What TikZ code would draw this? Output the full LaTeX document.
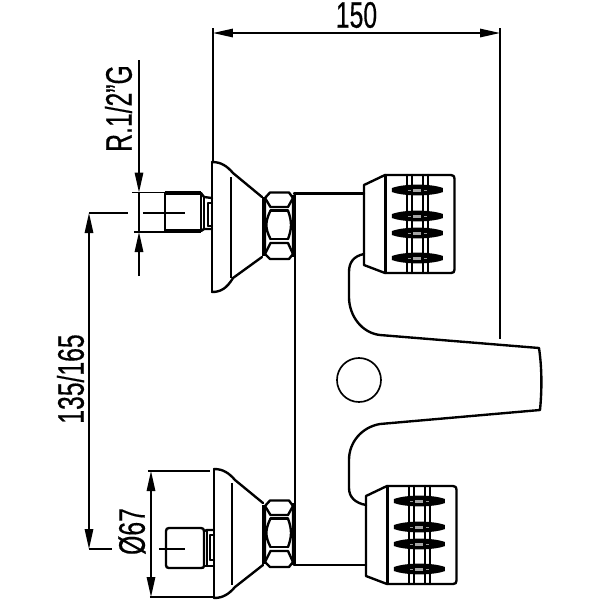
\documentclass[tikz,border=0pt]{standalone}
\usepackage{fontspec}
\usepackage{graphicx}
\setmainfont{Liberation Sans}
\newfontfamily\dimfont[FakeBold=0.5]{Liberation Sans}
\usetikzlibrary{arrows.meta}
\tikzset{
  part/.style={line width=1.35pt,line join=round,line cap=round},
  heavy/.style={line width=2.2pt,line join=round},
  thin part/.style={line width=0.9pt},
  dim/.style={line width=0.85pt},
  dimarrow/.style={dim,{Triangle[length=0.4cm,width=0.17cm]}-{Triangle[length=0.4cm,width=0.17cm]}},
  dimone/.style={dim,-{Triangle[length=0.4cm,width=0.17cm]}},
  label/.style={font=\dimfont\fontsize{21pt}{22pt}\selectfont,inner sep=0pt}
}
\newcommand{\cond}[1]{\scalebox{.67}[1]{#1}}
\newcommand{\nutpart}[1]{%
  \begin{scope}[shift={(#1)}]
    \draw[part] (270,192.5) -- (289,192.5) -- (293,198) -- (293,254) -- (289,259) -- (270,259) -- (265,254) -- (265,198) -- cycle;
    \draw[heavy] (263.5,197) -- (263.5,256);
    \draw[heavy] (294,195) -- (294,257);
    \draw[part] (265,198) -- (270.5,207) -- (288,207) -- (293,198);
    \draw[part] (270.5,210.5) -- (288,210.5);
    \draw[part] (270.5,210.5) .. controls (265,222) and (265,228) .. (270.5,239);
    \draw[part] (288,210.5) .. controls (292,222) and (292,228) .. (288,239);
    \draw[part] (270.5,239) -- (288,239);
    \draw[part] (265,254) -- (270.5,243) -- (288,243) -- (293,254);
  \end{scope}}
\newcommand{\bandpart}[1]{%
  \fill (392,#1-2) .. controls (404,#1-6.5) and (431,#1-6.5) .. (443,#1-2) -- (443,#1+2) .. controls (431,#1+6.5) and (404,#1+6.5) .. (392,#1+2) -- cycle;
  \fill[black!35] (413.5,#1-1.5) rectangle (421.5,#1+1.5);
  \fill[black!40] (408.3,#1-0.5) rectangle (410.7,#1+0.5);
  \fill[black!40] (424.3,#1-0.5) rectangle (426.7,#1+0.5);}
\newcommand{\knobpart}[1]{%
  \begin{scope}[shift={(#1)}]
    \bandpart{190}\bandpart{216}\bandpart{233}\bandpart{258}
    \draw[part] (364,185) -- (385,175) -- (451,175) .. controls (453.5,175) and (454.5,176.5) .. (454.5,178.5) -- (454.5,269.5) .. controls (454.5,272) and (453.5,273) .. (451,273) -- (385,273) -- (364,265) -- cycle;
    \draw[part] (385.5,175) -- (385.5,273);
    \foreach \xs in {407,412,423,428} \draw[part] (\xs,175) -- (\xs,273);
  \end{scope}}
\begin{document}
\begin{tikzpicture}[x=0.02cm,y=-0.02cm]
\useasboundingbox (0,0) rectangle (600,600);
\fill[white] (0,0) rectangle (600,600);

% body
\draw[part] (295,193) -- (295,565);
\draw[part] (294,193.5) -- (364,193.5);
\draw[part] (294,565) -- (366,565);
\draw[part] (364,254) .. controls (354,256) and (349,262) .. (349,272) -- (349,297)
  .. controls (349,316) and (362,333) .. (380,335) -- (539,348)
  .. controls (542,368) and (542,390) .. (540,410) -- (380,424)
  .. controls (362,427) and (349,442) .. (349,460) -- (349,488)
  .. controls (349,497) and (355,503) .. (366,505);
\draw[part,line width=0.95pt] (359,380) circle[radius=22];

% knobs
\knobpart{0,0}
\knobpart{2,311}

% upper wall plate
\draw[part] (212,162) .. controls (221,162) and (227,166) .. (233,173) -- (262,197);
\draw[part] (212,292) .. controls (221,292) and (227,288) .. (233,278) -- (262,257);
\draw[part] (212,162) -- (212,292);
\draw[thin part] (231,177) -- (231,278);
\nutpart{0,0}

% upper nipple
\draw[heavy] (165,193) -- (201,193);
\draw[heavy] (165,231) -- (201,231);
\draw[part] (165,193) -- (165,231);
\draw[part] (201,193) -- (204,197) -- (212,198);
\draw[part] (201,231) -- (204,229) -- (212,229);
\draw[part] (201,193) -- (201,231);
\draw[part] (204,197) -- (204,229);
\draw[part] (208,203) -- (212,203) (208,226) -- (212,226) (208,203) -- (208,226);

% lower wall plate
\draw[part] (214,469) .. controls (223,469) and (229,473) .. (235,480) -- (263,503);
\draw[part] (214,598) .. controls (223,598) and (229,594) .. (235,587) -- (263,565);
\draw[part] (214,469) -- (214,598);
\draw[thin part] (232,483) -- (232,585);
\nutpart{0,308}

% lower nipple
\draw[part] (169,528) -- (201,528) .. controls (203,528) and (204,529) .. (204,531) -- (204,566) .. controls (204,567.5) and (203,568) .. (201,568) -- (169,568) .. controls (167,568) and (166,567) .. (166,565) -- (166,531) .. controls (166,529) and (167,528) .. (169,528) -- cycle;
\draw[part] (204,531) -- (207,530) -- (214,530);
\draw[part] (204,566) -- (207,566) -- (214,566);
\draw[part] (207,530) -- (207,566);
\draw[part] (210,535) -- (214,535) (210,560) -- (214,560) (210,535) -- (210,560);

% centre lines
\coordinate (cu1) at (143,213); \coordinate (cu2) at (185,213);
\coordinate (cl1) at (159,549); \coordinate (cl2) at (185,549);
\draw[dim] (cu1) -- (cu2);
\draw[dim] (cl1) -- (cl2);

% dimension 150
\coordinate (wl) at (213,33); \coordinate (wr) at (500,33);
\draw[dim] (213,28) -- (213,162);
\draw[dim] (500,28) -- (500,339);
\draw[dimarrow] (wl) -- (wr);
\node[label] (t150) at (356.5,15) {\cond{150}};

% dimension R.1/2"G
\coordinate (ra) at (139,60); \coordinate (rb) at (139,192.5);
\coordinate (rc) at (139,276); \coordinate (rd) at (139,232);
\draw[dim] (132,192.5) -- (165,192.5);
\draw[dim] (134,232) -- (190,232);
\draw[dimone] (ra) -- (rb);
\draw[dimone] (rc) -- (rd);
\draw[dim] (rb) -- (rd);
\node[label,rotate=90] (tr) at (118.5,108.5) {\cond{R.1/2”G}};

% dimension 135/165
\coordinate (ha) at (89,213); \coordinate (hb) at (89,549);
\draw[dim] (ha) -- (128,213);
\draw[dim] (hb) -- (112,549);
\draw[dimarrow] (ha) -- (hb);
\node[label,rotate=90] (th) at (70.5,379) {\cond{135/165}};

% dimension diameter
\coordinate (da) at (151,471); \coordinate (db) at (151,597);
\draw[dim] (148,471) -- (210,471);
\draw[dim] (150,597) -- (214,597);
\draw[dimarrow] (da) -- (db);
\node[label,rotate=90] (td) at (132,531.5) {\cond{Ø67}};
\end{tikzpicture}
\end{document}
